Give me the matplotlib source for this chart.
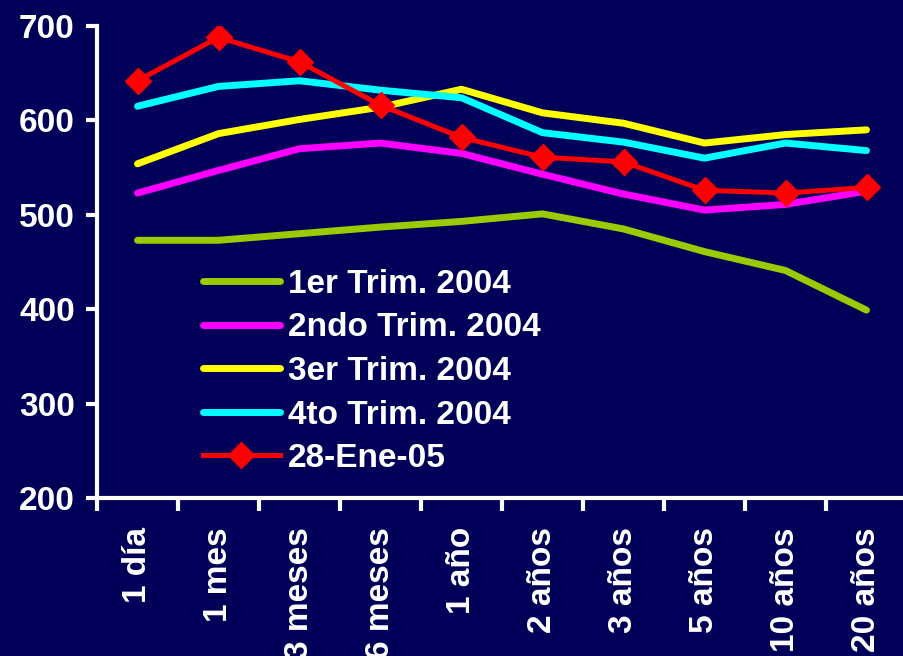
import matplotlib
matplotlib.use("Agg")
import matplotlib.pyplot as plt
import numpy as np

categories = ["1 día", "1 mes", "3 meses", "6 meses", "1 año", "2 años", "3 años", "5 años", "10 años", "20 años"]
trim1 = [473, 473, 480, 487, 493, 501, 485, 461, 441, 399]
trim2 = [523, 547, 570, 576, 565, 543, 522, 505, 511, 525]
trim3 = [554, 586, 601, 614, 633, 608, 597, 576, 585, 590]
trim4 = [615, 636, 642, 632, 624, 587, 577, 560, 576, 568]
ene05 = [642, 688, 662, 616, 582, 561, 556, 526, 523, 529]
labels = ["1er Trim. 2004", "2ndo Trim. 2004", "3er Trim. 2004", "4to Trim. 2004", "28-Ene-05"]
yticks = [200, 300, 400, 500, 600, 700]

bg = "#000058"
plt.rcParams['font.family'] = ['Liberation Sans', 'DejaVu Sans']
plt.rcParams['font.weight'] = 'bold'

fig = plt.figure(figsize=(9.04, 6.56), dpi=100, facecolor=bg)
W, H = 904, 656
ax = fig.add_axes([97 / W, (H - 498) / H, (907 - 97) / W, (498 - 26) / H])
ax.set_facecolor(bg)

x = np.arange(len(categories))
lw = 5.0
ax.plot(x, trim1, color="#99CC00", lw=lw, solid_capstyle="round", label=labels[0])
ax.plot(x, trim2, color="#FF00FF", lw=lw, solid_capstyle="round", label=labels[1])
ax.plot(x, trim3, color="#FFFF00", lw=lw, solid_capstyle="round", label=labels[2])
ax.plot(x, trim4, color="#00FFFF", lw=lw, solid_capstyle="round", label=labels[3])
ax.plot(x, ene05, color="#FF0000", lw=3.6, marker="D", markersize=13, label=labels[4])

ax.set_xlim(-0.5, len(categories) - 0.5)
ax.set_ylim(200, 700)
ax.set_yticks(yticks)
ax.set_yticklabels([str(v) for v in yticks])

ax.set_xticks(x)
ax.set_xticklabels(categories, rotation=90, va="top", ha="center")
ax.set_xticks(np.arange(-0.5, len(categories), 1.0), minor=True)
ax.tick_params(axis="x", which="major", length=0, pad=21, labelsize=24, colors="white")
ax.tick_params(axis="x", which="minor", length=9, width=3, color="white", direction="out")
ax.tick_params(axis="y", length=8, width=3, color="white", labelsize=24, labelcolor="white", pad=8)

for s in ["top", "right"]:
    ax.spines[s].set_visible(False)
for s in ["left", "bottom"]:
    ax.spines[s].set_color("white")
    ax.spines[s].set_linewidth(3)

leg = ax.legend(loc="upper left", bbox_to_anchor=(203 / W, 1 - 269 / H), bbox_transform=fig.transFigure,
                frameon=False, fontsize=24, handlelength=2.3, labelspacing=0.375, handletextpad=0.25,
                borderpad=0, borderaxespad=0)
for t in leg.get_texts():
    t.set_color("white")
    t.set_fontweight("bold")

fig.savefig("out.png", dpi=100, facecolor=bg)
